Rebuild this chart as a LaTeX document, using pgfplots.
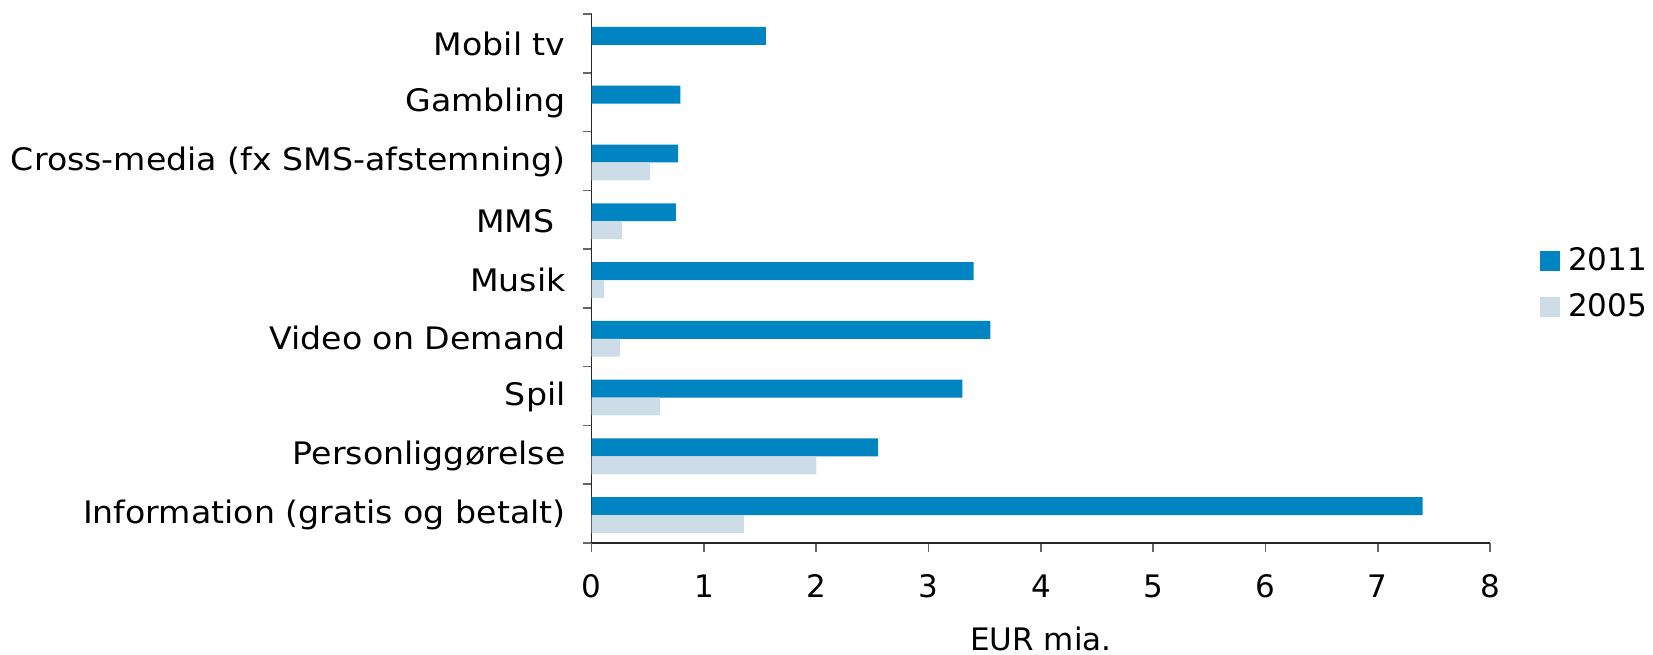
\documentclass[border=0pt]{standalone}
\usepackage{fontspec}
\setmainfont{DejaVu Sans}
\newfontfamily\catfont[FakeStretch=1.07]{DejaVu Sans}
\usepackage{pgfplots}
\pgfplotsset{compat=1.18}
\definecolor{c2011}{RGB}{0,133,194}
\definecolor{c2005}{RGB}{204,221,231}
\newcommand{\lblfont}{\fontsize{15.5bp}{18bp}\selectfont}
\pgfplotsset{sqlegend/.style={legend image code/.code={\fill[##1] (0bp,-5bp) rectangle (10bp,5bp); \path (14bp,0bp);}}}
\begin{document}
\begin{tikzpicture}
\path[use as bounding box] (-295.85bp,-56bp) rectangle (530.65bp,271.5bp);
\begin{axis}[
  at={(0,0)}, anchor=south west,
  scale only axis, width=449.2bp, height=264.5bp,
  xbar, bar width=0.305,
  xmin=0, xmax=8, ymin=-0.5, ymax=8.5,
  axis x line*=bottom, axis y line*=left,
  tick align=outside, major tick length=4.5bp,
  xtick={0,...,8},
  ytick={-0.5,0.5,...,8.5}, y tick label as interval,
  yticklabels={Information (gratis og betalt), Personliggørelse, Spil, Video on Demand, Musik, MMS\hspace*{5.5bp}, Cross-media (fx SMS-afstemning), Gambling, Mobil tv},
  tick style={black!60, line width=0.8bp},
  axis line style={black!85, line width=0.8bp},
  tick label style={font=\lblfont},
  /pgf/number format/assume math mode=true,
  xticklabel style={anchor=base, yshift=-22.6bp, inner sep=0pt},
  yticklabel style={anchor=east, inner sep=0pt, xshift=-8.4bp, yshift=-0.5bp, font=\catfont\lblfont},
  xlabel={EUR mia.},
  every axis x label/.style={at={(axis description cs:0.5,0)}, anchor=base, yshift=-53.5bp, font=\lblfont},
  legend style={draw=none, fill=none, at={(axis description cs:1,0.49)}, anchor=west, xshift=25bp, inner sep=0pt, outer sep=0pt, row sep=10.1bp, font=\lblfont, nodes={inner sep=0pt}},
  legend cell align=left,
]
\addplot[fill=c2011, draw=none, bar shift=0.127, sqlegend] coordinates {
  (7.40,0) (2.55,1) (3.30,2) (3.55,3) (3.40,4) (0.75,5) (0.77,6) (0.79,7) (1.55,8)
};
\addplot[fill=c2005, draw=none, bar shift=-0.178, sqlegend] coordinates {
  (1.355,0) (2.00,1) (0.61,2) (0.25,3) (0.11,4) (0.27,5) (0.52,6)
};
\legend{2011,2005}
\end{axis}
\end{tikzpicture}
\end{document}
